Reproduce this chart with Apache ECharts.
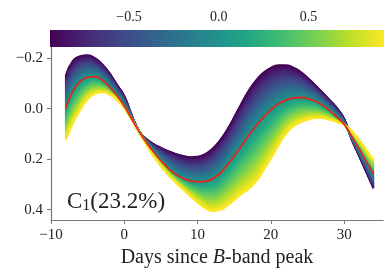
<!DOCTYPE html>
<html><head><meta charset="utf-8">
<script src="https://cdn.jsdelivr.net/npm/echarts@6/dist/echarts.min.js"></script>
<style>html,body{margin:0;padding:0;background:#fff}#c{width:384px;height:273px}</style>
</head><body><div id="c"></div>
<script>
// ---- data ----
const days = [-8,-7,-6,-5,-4,-3,-2,-1,0,1,2,3,4,5,6,7,8,9,10,11,12,13,14,15,16,17,18,19,20,21,22,23,24,25,26,27,28,29,30,31,32,33,34];
// mean template (red line, coefficient 0)
const meanCurve = [0.000,-0.070,-0.108,-0.124,-0.127,-0.112,-0.085,-0.052,-0.010,0.040,0.090,0.133,0.172,0.206,0.236,0.260,0.276,0.286,0.290,0.288,0.279,0.258,0.225,0.188,0.147,0.106,0.068,0.034,0.005,-0.018,-0.033,-0.042,-0.044,-0.040,-0.030,-0.014,0.008,0.034,0.062,0.108,0.157,0.208,0.259];
// curve at the lowest colour-bar coefficient (dark purple edge)
const purpleEdge = [-0.130,-0.190,-0.208,-0.212,-0.200,-0.175,-0.140,-0.095,-0.050,0.025,0.088,0.120,0.140,0.155,0.168,0.179,0.187,0.192,0.190,0.180,0.160,0.127,0.085,0.033,-0.022,-0.073,-0.113,-0.143,-0.162,-0.172,-0.172,-0.164,-0.147,-0.123,-0.095,-0.065,-0.035,-0.003,0.040,0.120,0.185,0.250,0.316];
// curve at the highest colour-bar coefficient (yellow edge)
const yellowEdge = [0.125,0.058,0.005,-0.038,-0.058,-0.064,-0.056,-0.035,-0.002,0.042,0.092,0.142,0.188,0.228,0.262,0.292,0.320,0.347,0.372,0.394,0.406,0.402,0.386,0.362,0.338,0.318,0.288,0.245,0.198,0.148,0.102,0.072,0.055,0.044,0.038,0.038,0.044,0.053,0.064,0.088,0.122,0.162,0.203];
const coefRange = [-0.94, 0.92];
const colorbarTicks = [-0.5, 0.0, 0.5];
const xTicks = [-10, 0, 10, 20, 30];
const yTicks = [-0.2, 0.0, 0.2, 0.4];
const nCurves = 100;

// ---- styling ----
const viridis = ['#440154','#482475','#414487','#355f8d','#2a788e','#21918c','#22a884','#44bf70','#7ad151','#bddf26','#fde725'];
function hex2rgb(h){return [parseInt(h.slice(1,3),16),parseInt(h.slice(3,5),16),parseInt(h.slice(5,7),16)];}
function viridisAt(t){
  t=Math.max(0,Math.min(1,t));
  const p=t*(viridis.length-1), i=Math.min(Math.floor(p),viridis.length-2), f=p-i;
  const a=hex2rgb(viridis[i]), b=hex2rgb(viridis[i+1]);
  return 'rgb('+a.map((v,k)=>Math.round(v+(b[k]-v)*f)).join(',')+')';
}
const fam = "'Liberation Serif','DejaVu Serif',serif";
const fmt = v => (v<0?'\u2212':'') + Math.abs(v).toFixed(1);
const fmtInt = v => (v<0?'\u2212':'') + Math.abs(v);

const series = [];
for (let i=0;i<nCurves;i++){
  const t=i/(nCurves-1);
  const c=coefRange[0]+(coefRange[1]-coefRange[0])*t;
  const data=days.map((d,k)=>{
    const m=meanCurve[k];
    const v = c<0 ? m+(c/coefRange[0])*(purpleEdge[k]-m) : m+(c/coefRange[1])*(yellowEdge[k]-m);
    return [d,v];
  });
  series.push({type:'line',data,smooth:true,symbol:'none',silent:true,
    lineStyle:{color:viridisAt(t),width:1.8},z:2});
}
series.push({type:'line',data:days.map((d,k)=>[d,meanCurve[k]]),smooth:true,symbol:'none',silent:true,
  lineStyle:{color:'#e3261c',width:1.8},z:5});
series.push({type:'line',xAxisIndex:1,yAxisIndex:1,data:[[coefRange[0],1],[coefRange[1],1]],symbol:'none',silent:true,
  lineStyle:{width:0},
  areaStyle:{opacity:1,color:new echarts.graphic.LinearGradient(0,0,1,0,viridis.map((c,i)=>({offset:i/(viridis.length-1),color:c})))}});

const chart = echarts.init(document.getElementById('c'));
chart.setOption({
  animation:false,
  textStyle:{fontFamily:fam},
  grid:[{left:51,top:47,width:332,height:178.7},{left:50,top:30,width:335,height:17}],
  xAxis:[{type:'value',gridIndex:0,min:-10,max:35.3,
      axisLine:{onZero:false,lineStyle:{color:'#777',width:1.2}},
      axisTick:{length:4,lineStyle:{color:'#777'},customValues:xTicks},
      axisLabel:{customValues:xTicks,formatter:fmtInt,color:'#222',fontSize:15,margin:8,fontFamily:fam},
      splitLine:{show:false},
      name:'Days since {i|B}-band peak',nameLocation:'middle',nameGap:28,
      nameTextStyle:{color:'#222',fontSize:20,fontFamily:fam,rich:{i:{fontStyle:'italic',fontSize:20,color:'#222',fontFamily:fam}}}},
    {type:'value',gridIndex:1,min:coefRange[0],max:coefRange[1],position:'top',
      axisLine:{show:false,onZero:false},
      axisTick:{inside:true,length:3,lineStyle:{color:'#333'},customValues:colorbarTicks},
      axisLabel:{customValues:colorbarTicks,formatter:fmt,color:'#222',fontSize:14,margin:6,fontFamily:fam},
      splitLine:{show:false}}],
  yAxis:[{type:'value',gridIndex:0,inverse:true,min:-0.244,max:0.441,
      axisLine:{show:true,onZero:false,lineStyle:{color:'#777',width:1.2}},
      axisTick:{show:true,length:4,lineStyle:{color:'#777'},customValues:yTicks},
      axisLabel:{customValues:yTicks,formatter:fmt,color:'#222',fontSize:15,margin:8,fontFamily:fam},
      splitLine:{show:false}},
    {type:'value',gridIndex:1,min:0,max:1,show:false}],
  graphic:[{type:'text',x:67,y:202,z:20,style:{
    text:'{c|C}{s|1}{c|(23.2%)}',verticalAlign:'middle',
    rich:{c:{fontSize:23,fontFamily:fam,fill:'#222',lineHeight:24,verticalAlign:'middle'},
          s:{fontSize:16,fontFamily:fam,fill:'#222',lineHeight:16,verticalAlign:'bottom'}}}}],
  series
});
</script></body></html>
